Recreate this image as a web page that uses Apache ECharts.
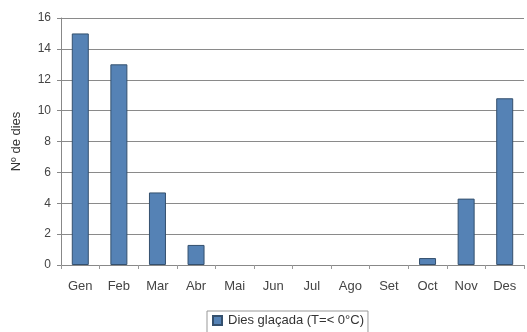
<!DOCTYPE html>
<html><head><meta charset="utf-8">
<script src="https://cdn.jsdelivr.net/npm/echarts@6/dist/echarts.min.js"></script>
<style>html,body{margin:0;padding:0;background:#fff}#c{width:527px;height:332px}</style>
</head><body><div id="c"></div>
<script>
const categories = ['Gen','Feb','Mar','Abr','Mai','Jun','Jul','Ago','Set','Oct','Nov','Des'];
const values = [15, 13, 4.7, 1.3, 0, 0, 0, 0, 0, 0.45, 4.3, 10.8];
const seriesName = 'Dies glaçada (T=< 0°C)';
const yTicks = [0, 2, 4, 6, 8, 10, 12, 14, 16];

const chart = echarts.init(document.getElementById('c'));
chart.setOption({
  animation: false,
  grid: {left: 61, right: 3, top: 18, bottom: 67},
  legend: {
    top: 311, left: 207,
    data: [seriesName],
    itemWidth: 9, itemHeight: 9, itemGap: 2,
    icon: 'rect',
    borderColor: '#999', borderWidth: 1, borderRadius: 0,
    padding: [3, 4, 6, 5],
    textStyle: {fontFamily: 'Liberation Sans', fontSize: 13, color: '#333', padding: [0,0,0,1]}
  },
  xAxis: {
    type: 'category', data: categories,
    axisLine: {lineStyle: {color: '#888'}},
    axisTick: {show: true, length: 4, lineStyle: {color: '#999'}},
    axisLabel: {fontFamily: 'Liberation Sans', fontSize: 13, color: '#444', margin: 15}
  },
  yAxis: {
    type: 'value', min: 0, max: 16, interval: 2,
    name: 'Nº de dies', nameLocation: 'middle', nameGap: 38, nameRotate: 90,
    nameTextStyle: {fontFamily: 'Liberation Sans', fontSize: 13, color: '#333'},
    axisLine: {show: true, lineStyle: {color: '#888'}},
    axisTick: {show: true, length: 4, lineStyle: {color: '#888'}},
    axisLabel: {fontFamily: 'Liberation Sans', fontSize: 12, color: '#444', margin: 10,
      formatter: v => yTicks.includes(v) ? String(v) : ''},
    splitLine: {lineStyle: {color: '#8a8a8a', width: 1}}
  },
  series: [{
    name: seriesName, type: 'bar', barWidth: 17,
    data: values.map(v => ({value: v, itemStyle: v === 0 ? {borderWidth: 0, opacity: 0} : {}})),
    itemStyle: {color: '#5582b5', borderColor: '#34506e', borderWidth: 1}
  }]
});
</script></body></html>
